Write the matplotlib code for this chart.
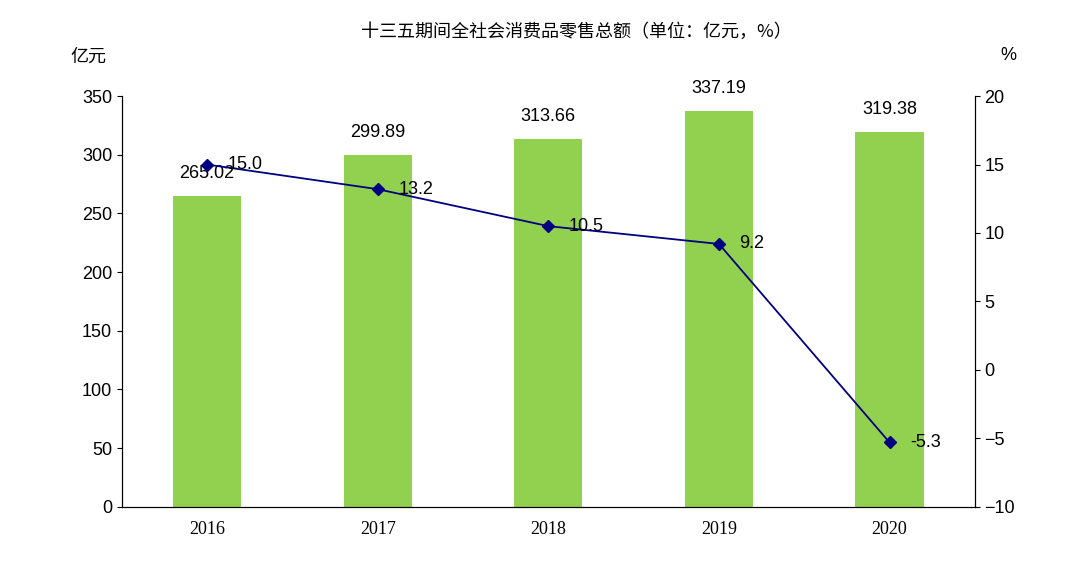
import matplotlib
matplotlib.use("Agg")
import matplotlib.pyplot as plt

years = ["2016", "2017", "2018", "2019", "2020"]
sales = [265.02, 299.89, 313.66, 337.19, 319.38]
growth = [15.0, 13.2, 10.5, 9.2, -5.3]

plt.rcParams['font.family'] = ['Liberation Sans', 'Noto Sans CJK SC', 'DejaVu Sans']
fig = plt.figure(figsize=(10.88, 5.72), dpi=100)
ax = fig.add_axes([0.112, 0.114, 0.784, 0.718])
x = list(range(len(years)))
ax.bar(x, sales, width=0.4, color="#92D050")
for xi, v in zip(x, sales):
    ax.text(xi, v + 12, f"{v:.2f}", ha="center", va="bottom", fontsize=13)
ax.set_ylim(0, 350)
ax.set_xlim(-0.5, 4.5)
ax.set_yticks(range(0, 351, 50))
ax.set_xticks(x)
ax.set_xticklabels(years, family="Liberation Serif", fontsize=13)
ax.tick_params(axis="y", labelsize=13, direction="out")
ax.tick_params(axis="x", length=0, pad=10)
ax.spines["top"].set_visible(False)

ax2 = ax.twinx()
ax2.plot(x, growth, color="#000080", marker="D", markersize=6, lw=1.3)
for xi, v in zip(x, growth):
    ax2.text(xi + 0.12, v, f"{v:.1f}", ha="left", va="center", fontsize=13)
ax2.set_ylim(-10, 20)
ax2.set_yticks(range(-10, 21, 5))
ax2.tick_params(axis="y", labelsize=13)
ax2.spines["top"].set_visible(False)

fig.text(0.53, 0.945, "十三五期间全社会消费品零售总额（单位：亿元，%）", ha="center", va="center",
         fontsize=13, family=["Noto Sans CJK SC"])
fig.text(0.081, 0.9, "亿元", ha="center", va="center", fontsize=13, family=["Noto Sans CJK SC"])
fig.text(0.927, 0.903, "%", ha="center", va="center", fontsize=13)
fig.savefig("out.png", dpi=100)
